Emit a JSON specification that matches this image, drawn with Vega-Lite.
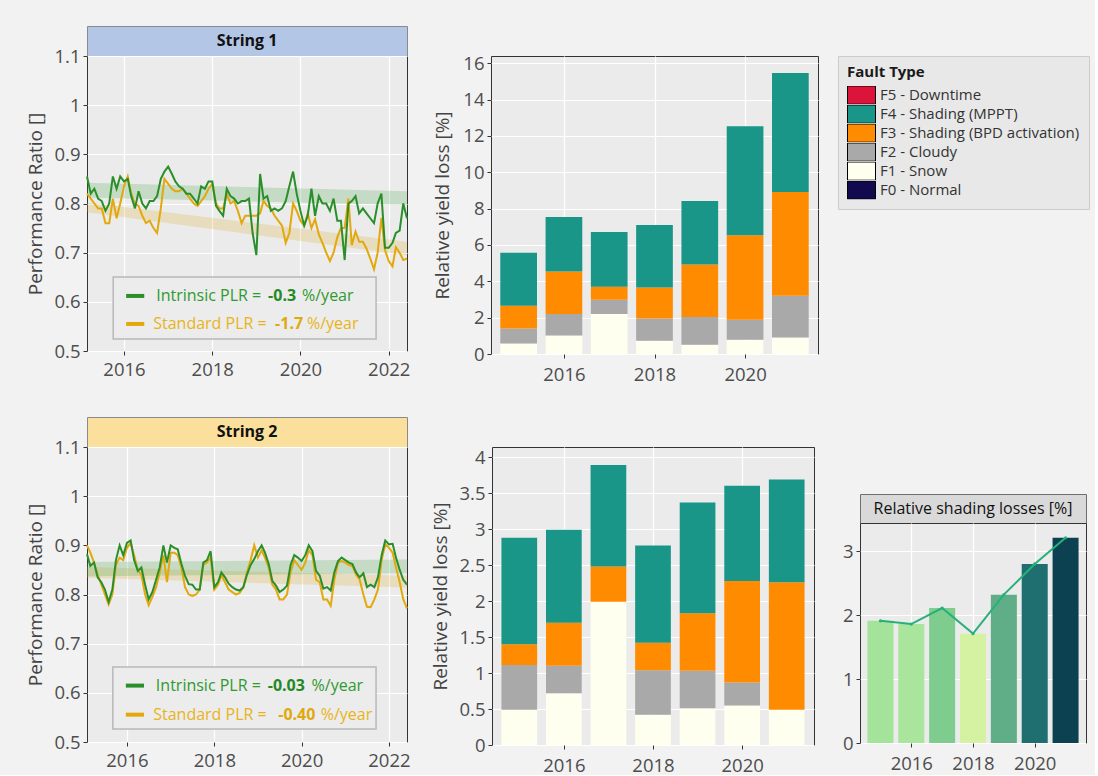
{
  "$schema": "https://vega.github.io/schema/vega-lite/v6.json",
  "padding": {"left": 25, "top": 25, "right": 5, "bottom": 0},
  "background": "#f2f2f2",
  "datasets": {
    "pr1": [
      {"date": "2015-03-01", "intrinsic": 0.855, "standard": 0.82},
      {"date": "2015-04-01", "intrinsic": 0.82, "standard": 0.81},
      {"date": "2015-05-01", "intrinsic": 0.83, "standard": 0.8},
      {"date": "2015-06-01", "intrinsic": 0.81, "standard": 0.79},
      {"date": "2015-07-01", "intrinsic": 0.805, "standard": 0.79},
      {"date": "2015-08-01", "intrinsic": 0.785, "standard": 0.76},
      {"date": "2015-09-01", "intrinsic": 0.8, "standard": 0.76},
      {"date": "2015-10-01", "intrinsic": 0.855, "standard": 0.81},
      {"date": "2015-11-01", "intrinsic": 0.83, "standard": 0.77},
      {"date": "2015-12-01", "intrinsic": 0.855, "standard": 0.8},
      {"date": "2016-01-01", "intrinsic": 0.845, "standard": 0.835},
      {"date": "2016-02-01", "intrinsic": 0.85, "standard": 0.855},
      {"date": "2016-03-01", "intrinsic": 0.815, "standard": 0.82},
      {"date": "2016-04-01", "intrinsic": 0.79, "standard": 0.8},
      {"date": "2016-05-01", "intrinsic": 0.825, "standard": 0.795},
      {"date": "2016-06-01", "intrinsic": 0.8, "standard": 0.775},
      {"date": "2016-07-01", "intrinsic": 0.79, "standard": 0.76},
      {"date": "2016-08-01", "intrinsic": 0.805, "standard": 0.765},
      {"date": "2016-09-01", "intrinsic": 0.805, "standard": 0.75},
      {"date": "2016-10-01", "intrinsic": 0.815, "standard": 0.74},
      {"date": "2016-11-01", "intrinsic": 0.85, "standard": 0.79},
      {"date": "2016-12-01", "intrinsic": 0.865, "standard": 0.85},
      {"date": "2017-01-01", "intrinsic": 0.875, "standard": 0.84},
      {"date": "2017-02-01", "intrinsic": 0.86, "standard": 0.83},
      {"date": "2017-03-01", "intrinsic": 0.845, "standard": 0.825},
      {"date": "2017-04-01", "intrinsic": 0.835, "standard": 0.825},
      {"date": "2017-05-01", "intrinsic": 0.83, "standard": 0.83},
      {"date": "2017-06-01", "intrinsic": 0.82, "standard": 0.82},
      {"date": "2017-07-01", "intrinsic": 0.82, "standard": 0.81},
      {"date": "2017-08-01", "intrinsic": 0.81, "standard": 0.8},
      {"date": "2017-09-01", "intrinsic": 0.8, "standard": 0.795},
      {"date": "2017-10-01", "intrinsic": 0.835, "standard": 0.805},
      {"date": "2017-11-01", "intrinsic": 0.83, "standard": 0.815},
      {"date": "2017-12-01", "intrinsic": 0.845, "standard": 0.83},
      {"date": "2018-01-01", "intrinsic": 0.845, "standard": 0.84},
      {"date": "2018-02-01", "intrinsic": 0.795, "standard": 0.8},
      {"date": "2018-03-01", "intrinsic": 0.785, "standard": 0.79},
      {"date": "2018-04-01", "intrinsic": 0.775, "standard": 0.79},
      {"date": "2018-05-01", "intrinsic": 0.83, "standard": 0.82},
      {"date": "2018-06-01", "intrinsic": 0.815, "standard": 0.8},
      {"date": "2018-07-01", "intrinsic": 0.81, "standard": 0.805},
      {"date": "2018-08-01", "intrinsic": 0.8, "standard": 0.785},
      {"date": "2018-09-01", "intrinsic": 0.805, "standard": 0.76},
      {"date": "2018-10-01", "intrinsic": 0.805, "standard": 0.775},
      {"date": "2018-11-01", "intrinsic": 0.81, "standard": 0.775},
      {"date": "2018-12-01", "intrinsic": 0.74, "standard": 0.775},
      {"date": "2019-01-01", "intrinsic": 0.695, "standard": 0.775},
      {"date": "2019-02-01", "intrinsic": 0.86, "standard": 0.78},
      {"date": "2019-03-01", "intrinsic": 0.81, "standard": 0.805},
      {"date": "2019-04-01", "intrinsic": 0.815, "standard": 0.795},
      {"date": "2019-05-01", "intrinsic": 0.785, "standard": 0.79},
      {"date": "2019-06-01", "intrinsic": 0.79, "standard": 0.775},
      {"date": "2019-07-01", "intrinsic": 0.785, "standard": 0.765},
      {"date": "2019-08-01", "intrinsic": 0.79, "standard": 0.755},
      {"date": "2019-09-01", "intrinsic": 0.805, "standard": 0.72},
      {"date": "2019-10-01", "intrinsic": 0.835, "standard": 0.74},
      {"date": "2019-11-01", "intrinsic": 0.865, "standard": 0.8},
      {"date": "2019-12-01", "intrinsic": 0.82, "standard": 0.785},
      {"date": "2020-01-01", "intrinsic": 0.785, "standard": 0.765},
      {"date": "2020-02-01", "intrinsic": 0.755, "standard": 0.755},
      {"date": "2020-03-01", "intrinsic": 0.775, "standard": 0.78},
      {"date": "2020-04-01", "intrinsic": 0.83, "standard": 0.75},
      {"date": "2020-05-01", "intrinsic": 0.775, "standard": 0.768},
      {"date": "2020-06-01", "intrinsic": 0.815, "standard": 0.737},
      {"date": "2020-07-01", "intrinsic": 0.8, "standard": 0.72},
      {"date": "2020-08-01", "intrinsic": 0.8, "standard": 0.7},
      {"date": "2020-09-01", "intrinsic": 0.785, "standard": 0.683},
      {"date": "2020-10-01", "intrinsic": 0.81, "standard": 0.7},
      {"date": "2020-11-01", "intrinsic": 0.765, "standard": 0.731},
      {"date": "2020-12-01", "intrinsic": 0.765, "standard": 0.75},
      {"date": "2021-01-01", "intrinsic": 0.685, "standard": 0.75},
      {"date": "2021-02-01", "intrinsic": 0.8, "standard": 0.81},
      {"date": "2021-03-01", "intrinsic": 0.805, "standard": 0.715},
      {"date": "2021-04-01", "intrinsic": 0.815, "standard": 0.743},
      {"date": "2021-05-01", "intrinsic": 0.78, "standard": 0.722},
      {"date": "2021-06-01", "intrinsic": 0.79, "standard": 0.722},
      {"date": "2021-07-01", "intrinsic": 0.78, "standard": 0.708},
      {"date": "2021-08-01", "intrinsic": 0.77, "standard": 0.688},
      {"date": "2021-09-01", "intrinsic": 0.76, "standard": 0.666},
      {"date": "2021-10-01", "intrinsic": 0.8, "standard": 0.7},
      {"date": "2021-11-01", "intrinsic": 0.82, "standard": 0.771},
      {"date": "2021-12-01", "intrinsic": 0.71, "standard": 0.705},
      {"date": "2022-01-01", "intrinsic": 0.71, "standard": 0.683},
      {"date": "2022-02-01", "intrinsic": 0.72, "standard": 0.672},
      {"date": "2022-03-01", "intrinsic": 0.74, "standard": 0.711},
      {"date": "2022-04-01", "intrinsic": 0.745, "standard": 0.7},
      {"date": "2022-05-01", "intrinsic": 0.8, "standard": 0.685},
      {"date": "2022-06-01", "intrinsic": 0.77, "standard": 0.688}
    ],
    "pr2": [
      {"date": "2015-02-01", "intrinsic": 0.882, "standard": 0.9},
      {"date": "2015-03-01", "intrinsic": 0.858, "standard": 0.885},
      {"date": "2015-04-01", "intrinsic": 0.865, "standard": 0.865},
      {"date": "2015-05-01", "intrinsic": 0.835, "standard": 0.84},
      {"date": "2015-06-01", "intrinsic": 0.825, "standard": 0.82},
      {"date": "2015-07-01", "intrinsic": 0.81, "standard": 0.8},
      {"date": "2015-08-01", "intrinsic": 0.785, "standard": 0.78},
      {"date": "2015-09-01", "intrinsic": 0.81, "standard": 0.8},
      {"date": "2015-10-01", "intrinsic": 0.87, "standard": 0.86},
      {"date": "2015-11-01", "intrinsic": 0.9, "standard": 0.875},
      {"date": "2015-12-01", "intrinsic": 0.88, "standard": 0.87},
      {"date": "2016-01-01", "intrinsic": 0.905, "standard": 0.895},
      {"date": "2016-02-01", "intrinsic": 0.91, "standard": 0.905},
      {"date": "2016-03-01", "intrinsic": 0.87, "standard": 0.88},
      {"date": "2016-04-01", "intrinsic": 0.848, "standard": 0.85},
      {"date": "2016-05-01", "intrinsic": 0.855, "standard": 0.84},
      {"date": "2016-06-01", "intrinsic": 0.82, "standard": 0.8},
      {"date": "2016-07-01", "intrinsic": 0.79, "standard": 0.778},
      {"date": "2016-08-01", "intrinsic": 0.805, "standard": 0.795},
      {"date": "2016-09-01", "intrinsic": 0.83, "standard": 0.815},
      {"date": "2016-10-01", "intrinsic": 0.855, "standard": 0.845},
      {"date": "2016-11-01", "intrinsic": 0.9, "standard": 0.88},
      {"date": "2016-12-01", "intrinsic": 0.865, "standard": 0.825},
      {"date": "2017-01-01", "intrinsic": 0.9, "standard": 0.885},
      {"date": "2017-02-01", "intrinsic": 0.895, "standard": 0.885},
      {"date": "2017-03-01", "intrinsic": 0.892, "standard": 0.88},
      {"date": "2017-04-01", "intrinsic": 0.862, "standard": 0.855},
      {"date": "2017-05-01", "intrinsic": 0.838, "standard": 0.815},
      {"date": "2017-06-01", "intrinsic": 0.821, "standard": 0.8},
      {"date": "2017-07-01", "intrinsic": 0.82, "standard": 0.797},
      {"date": "2017-08-01", "intrinsic": 0.81, "standard": 0.8},
      {"date": "2017-09-01", "intrinsic": 0.81, "standard": 0.81},
      {"date": "2017-10-01", "intrinsic": 0.865, "standard": 0.86},
      {"date": "2017-11-01", "intrinsic": 0.87, "standard": 0.865},
      {"date": "2017-12-01", "intrinsic": 0.888, "standard": 0.875},
      {"date": "2018-01-01", "intrinsic": 0.815, "standard": 0.81},
      {"date": "2018-02-01", "intrinsic": 0.825, "standard": 0.82},
      {"date": "2018-03-01", "intrinsic": 0.845, "standard": 0.84},
      {"date": "2018-04-01", "intrinsic": 0.835, "standard": 0.825},
      {"date": "2018-05-01", "intrinsic": 0.822, "standard": 0.81},
      {"date": "2018-06-01", "intrinsic": 0.815, "standard": 0.805},
      {"date": "2018-07-01", "intrinsic": 0.81, "standard": 0.8},
      {"date": "2018-08-01", "intrinsic": 0.808, "standard": 0.803},
      {"date": "2018-09-01", "intrinsic": 0.815, "standard": 0.815},
      {"date": "2018-10-01", "intrinsic": 0.84, "standard": 0.845},
      {"date": "2018-11-01", "intrinsic": 0.86, "standard": 0.87},
      {"date": "2018-12-01", "intrinsic": 0.872, "standard": 0.9},
      {"date": "2019-01-01", "intrinsic": 0.888, "standard": 0.875},
      {"date": "2019-02-01", "intrinsic": 0.9, "standard": 0.89},
      {"date": "2019-03-01", "intrinsic": 0.885, "standard": 0.875},
      {"date": "2019-04-01", "intrinsic": 0.862, "standard": 0.855},
      {"date": "2019-05-01", "intrinsic": 0.828, "standard": 0.82},
      {"date": "2019-06-01", "intrinsic": 0.818, "standard": 0.81},
      {"date": "2019-07-01", "intrinsic": 0.805, "standard": 0.79},
      {"date": "2019-08-01", "intrinsic": 0.81, "standard": 0.79},
      {"date": "2019-09-01", "intrinsic": 0.818, "standard": 0.8},
      {"date": "2019-10-01", "intrinsic": 0.86, "standard": 0.845},
      {"date": "2019-11-01", "intrinsic": 0.88, "standard": 0.87},
      {"date": "2019-12-01", "intrinsic": 0.875, "standard": 0.86},
      {"date": "2020-01-01", "intrinsic": 0.868, "standard": 0.85},
      {"date": "2020-02-01", "intrinsic": 0.88, "standard": 0.865},
      {"date": "2020-03-01", "intrinsic": 0.9, "standard": 0.89},
      {"date": "2020-04-01", "intrinsic": 0.888, "standard": 0.88},
      {"date": "2020-05-01", "intrinsic": 0.848, "standard": 0.83},
      {"date": "2020-06-01", "intrinsic": 0.838, "standard": 0.825},
      {"date": "2020-07-01", "intrinsic": 0.812, "standard": 0.79},
      {"date": "2020-08-01", "intrinsic": 0.815, "standard": 0.79},
      {"date": "2020-09-01", "intrinsic": 0.808, "standard": 0.777},
      {"date": "2020-10-01", "intrinsic": 0.845, "standard": 0.83},
      {"date": "2020-11-01", "intrinsic": 0.868, "standard": 0.865},
      {"date": "2020-12-01", "intrinsic": 0.875, "standard": 0.868},
      {"date": "2021-01-01", "intrinsic": 0.87, "standard": 0.865},
      {"date": "2021-02-01", "intrinsic": 0.865, "standard": 0.86},
      {"date": "2021-03-01", "intrinsic": 0.862, "standard": 0.858},
      {"date": "2021-04-01", "intrinsic": 0.845, "standard": 0.84},
      {"date": "2021-05-01", "intrinsic": 0.835, "standard": 0.83},
      {"date": "2021-06-01", "intrinsic": 0.843, "standard": 0.8},
      {"date": "2021-07-01", "intrinsic": 0.815, "standard": 0.775},
      {"date": "2021-08-01", "intrinsic": 0.82, "standard": 0.774},
      {"date": "2021-09-01", "intrinsic": 0.815, "standard": 0.79},
      {"date": "2021-10-01", "intrinsic": 0.835, "standard": 0.81},
      {"date": "2021-11-01", "intrinsic": 0.88, "standard": 0.87},
      {"date": "2021-12-01", "intrinsic": 0.91, "standard": 0.902},
      {"date": "2022-01-01", "intrinsic": 0.902, "standard": 0.895},
      {"date": "2022-02-01", "intrinsic": 0.903, "standard": 0.885},
      {"date": "2022-03-01", "intrinsic": 0.875, "standard": 0.855},
      {"date": "2022-04-01", "intrinsic": 0.85, "standard": 0.825},
      {"date": "2022-05-01", "intrinsic": 0.83, "standard": 0.79},
      {"date": "2022-06-01", "intrinsic": 0.82, "standard": 0.772}
    ],
    "trend1": [
      {"date": "2015-03-01", "intrinsic_lo": 0.812, "intrinsic_hi": 0.842, "standard_lo": 0.782, "standard_hi": 0.802},
      {"date": "2022-06-01", "intrinsic_lo": 0.797, "intrinsic_hi": 0.825, "standard_lo": 0.695, "standard_hi": 0.722}
    ],
    "trend2": [
      {"date": "2015-02-01", "intrinsic_lo": 0.837, "intrinsic_hi": 0.866, "standard_lo": 0.834, "standard_hi": 0.856},
      {"date": "2022-06-01", "intrinsic_lo": 0.843, "intrinsic_hi": 0.871, "standard_lo": 0.814, "standard_hi": 0.838}
    ],
    "plr1": [
      {"method": "Intrinsic", "label": "Intrinsic PLR =", "plr": "-0.3", "unit": "%/year"},
      {"method": "Standard", "label": "Standard PLR =", "plr": "-1.7", "unit": "%/year"}
    ],
    "plr2": [
      {"method": "Intrinsic", "label": "Intrinsic PLR =", "plr": "-0.03", "unit": "%/year"},
      {"method": "Standard", "label": "Standard PLR =", "plr": "-0.40", "unit": "%/year"}
    ],
    "loss1": [
      {"year": 2015, "fault": "F1 - Snow", "loss": 0.58},
      {"year": 2015, "fault": "F2 - Cloudy", "loss": 0.83},
      {"year": 2015, "fault": "F3 - Shading (BPD activation)", "loss": 1.24},
      {"year": 2015, "fault": "F4 - Shading (MPPT)", "loss": 2.92},
      {"year": 2016, "fault": "F1 - Snow", "loss": 1.02},
      {"year": 2016, "fault": "F2 - Cloudy", "loss": 1.18},
      {"year": 2016, "fault": "F3 - Shading (BPD activation)", "loss": 2.34},
      {"year": 2016, "fault": "F4 - Shading (MPPT)", "loss": 3.0},
      {"year": 2017, "fault": "F1 - Snow", "loss": 2.2},
      {"year": 2017, "fault": "F2 - Cloudy", "loss": 0.78},
      {"year": 2017, "fault": "F3 - Shading (BPD activation)", "loss": 0.72},
      {"year": 2017, "fault": "F4 - Shading (MPPT)", "loss": 3.02},
      {"year": 2018, "fault": "F1 - Snow", "loss": 0.73},
      {"year": 2018, "fault": "F2 - Cloudy", "loss": 1.23},
      {"year": 2018, "fault": "F3 - Shading (BPD activation)", "loss": 1.7},
      {"year": 2018, "fault": "F4 - Shading (MPPT)", "loss": 3.44},
      {"year": 2019, "fault": "F1 - Snow", "loss": 0.51},
      {"year": 2019, "fault": "F2 - Cloudy", "loss": 1.52},
      {"year": 2019, "fault": "F3 - Shading (BPD activation)", "loss": 2.89},
      {"year": 2019, "fault": "F4 - Shading (MPPT)", "loss": 3.5},
      {"year": 2020, "fault": "F1 - Snow", "loss": 0.79},
      {"year": 2020, "fault": "F2 - Cloudy", "loss": 1.09},
      {"year": 2020, "fault": "F3 - Shading (BPD activation)", "loss": 4.66},
      {"year": 2020, "fault": "F4 - Shading (MPPT)", "loss": 6.0},
      {"year": 2021, "fault": "F1 - Snow", "loss": 0.91},
      {"year": 2021, "fault": "F2 - Cloudy", "loss": 2.29},
      {"year": 2021, "fault": "F3 - Shading (BPD activation)", "loss": 5.72},
      {"year": 2021, "fault": "F4 - Shading (MPPT)", "loss": 6.54}
    ],
    "loss2": [
      {"year": 2015, "fault": "F1 - Snow", "loss": 0.49},
      {"year": 2015, "fault": "F2 - Cloudy", "loss": 0.62},
      {"year": 2015, "fault": "F3 - Shading (BPD activation)", "loss": 0.29},
      {"year": 2015, "fault": "F4 - Shading (MPPT)", "loss": 1.48},
      {"year": 2016, "fault": "F1 - Snow", "loss": 0.72},
      {"year": 2016, "fault": "F2 - Cloudy", "loss": 0.38},
      {"year": 2016, "fault": "F3 - Shading (BPD activation)", "loss": 0.6},
      {"year": 2016, "fault": "F4 - Shading (MPPT)", "loss": 1.29},
      {"year": 2017, "fault": "F1 - Snow", "loss": 1.99},
      {"year": 2017, "fault": "F3 - Shading (BPD activation)", "loss": 0.49},
      {"year": 2017, "fault": "F4 - Shading (MPPT)", "loss": 1.41},
      {"year": 2018, "fault": "F1 - Snow", "loss": 0.42},
      {"year": 2018, "fault": "F2 - Cloudy", "loss": 0.62},
      {"year": 2018, "fault": "F3 - Shading (BPD activation)", "loss": 0.38},
      {"year": 2018, "fault": "F4 - Shading (MPPT)", "loss": 1.35},
      {"year": 2019, "fault": "F1 - Snow", "loss": 0.51},
      {"year": 2019, "fault": "F2 - Cloudy", "loss": 0.52},
      {"year": 2019, "fault": "F3 - Shading (BPD activation)", "loss": 0.8},
      {"year": 2019, "fault": "F4 - Shading (MPPT)", "loss": 1.54},
      {"year": 2020, "fault": "F1 - Snow", "loss": 0.55},
      {"year": 2020, "fault": "F2 - Cloudy", "loss": 0.32},
      {"year": 2020, "fault": "F3 - Shading (BPD activation)", "loss": 1.41},
      {"year": 2020, "fault": "F4 - Shading (MPPT)", "loss": 1.32},
      {"year": 2021, "fault": "F1 - Snow", "loss": 0.49},
      {"year": 2021, "fault": "F3 - Shading (BPD activation)", "loss": 1.77},
      {"year": 2021, "fault": "F4 - Shading (MPPT)", "loss": 1.43}
    ],
    "shade": [
      {"year": 2015, "shading": 1.91},
      {"year": 2016, "shading": 1.86},
      {"year": 2017, "shading": 2.11},
      {"year": 2018, "shading": 1.71},
      {"year": 2019, "shading": 2.32},
      {"year": 2020, "shading": 2.8},
      {"year": 2021, "shading": 3.21}
    ]
  },
  "spacing": 32,
  "resolve": {"scale": {"color": "independent"}, "legend": {"color": "independent"}},
  "vconcat": [
    {
      "spacing": 21,
      "resolve": {"scale": {"color": "independent"}, "legend": {"color": "independent"}},
      "hconcat": [
        {
          "bounds": "flush",
          "spacing": 0,
          "vconcat": [
            {
              "width": 320, "height": 30,
              "data": {"values": [{"strip": "String 1"}]},
              "view": {"fill": "#b4c6e6", "stroke": "#8a8a8a"},
              "mark": {"type": "text", "fontSize": 16, "fontWeight": "bold", "color": "#111111"},
              "encoding": {"text": {"field": "strip"}}
            },
            {
              "width": 320, "height": 295,
              "layer": [
                {
                  "data": {"name": "trend1"},
                  "mark": {"type": "area", "color": "#dcaa1e", "opacity": 0.22},
                  "encoding": {
                    "x": {"field": "date", "type": "temporal", "scale": {"domain": [{"year": 2015, "month": 3, "date": 1}, {"year": 2022, "month": 6, "date": 1}], "nice": false}, "axis": {"title": null, "format": "%Y", "tickCount": {"interval": "year", "step": 2}}},
                    "y": {"field": "standard_lo", "type": "quantitative", "scale": {"domain": [0.5, 1.1], "nice": false, "zero": false}, "axis": {"title": "Performance Ratio []", "values": [0.5, 0.6, 0.7, 0.8, 0.9, 1, 1.1], "format": ".1~f", "titlePadding": 8.5}},
                    "y2": {"field": "standard_hi"}
                  }
                },
                {
                  "data": {"name": "trend1"},
                  "mark": {"type": "area", "color": "#2e9a2e", "opacity": 0.2},
                  "encoding": {
                    "x": {"field": "date", "type": "temporal"},
                    "y": {"field": "intrinsic_lo", "type": "quantitative"},
                    "y2": {"field": "intrinsic_hi"}
                  }
                },
                {
                  "data": {"name": "pr1"},
                  "mark": {"type": "line", "color": "#e3a80c", "strokeWidth": 2},
                  "encoding": {"x": {"field": "date", "type": "temporal"}, "y": {"field": "standard", "type": "quantitative"}}
                },
                {
                  "data": {"name": "pr1"},
                  "mark": {"type": "line", "color": "#2a8f2a", "strokeWidth": 2},
                  "encoding": {"x": {"field": "date", "type": "temporal"}, "y": {"field": "intrinsic", "type": "quantitative"}}
                },
                {
                  "data": {"name": "plr1"},
                  "transform": [{"filter": "datum.method === 'Intrinsic'"}],
                  "mark": {"type": "rect", "fill": "#ececec", "stroke": "#b8b8b8", "strokeWidth": 1.5},
                  "encoding": {
                    "x": {"datum": {"year": 2015, "month": 10, "date": 4}},
                    "x2": {"datum": {"year": 2021, "month": 9, "date": 18}},
                    "y": {"datum": 0.6505},
                    "y2": {"datum": 0.5244}
                  }
                },
                {
                  "data": {"name": "plr1"},
                  "transform": [{"filter": "datum.method === 'Intrinsic'"}],
                  "layer": [
                    {"mark": {"type": "rule", "color": "#2a8f2a", "strokeWidth": 4}, "encoding": {"x": {"datum": {"year": 2016, "month": 1, "date": 19}}, "x2": {"datum": {"year": 2016, "month": 6, "date": 17}}, "y": {"datum": 0.612}}},
                    {"mark": {"type": "text", "align": "left", "baseline": "middle", "fontSize": 16, "color": "#2f9a2f"}, "encoding": {"x": {"datum": {"year": 2016, "month": 9, "date": 24}}, "y": {"datum": 0.612}, "text": {"field": "label"}}},
                    {"mark": {"type": "text", "align": "left", "baseline": "middle", "fontSize": 16, "fontWeight": "bold", "color": "#238a23"}, "encoding": {"x": {"datum": {"year": 2019, "month": 4, "date": 8}}, "y": {"datum": 0.612}, "text": {"field": "plr"}}},
                    {"mark": {"type": "text", "align": "left", "baseline": "middle", "fontSize": 16, "color": "#2f9a2f"}, "encoding": {"x": {"datum": {"year": 2020, "month": 1, "date": 14}}, "y": {"datum": 0.612}, "text": {"field": "unit"}}}
                  ]
                },
                {
                  "data": {"name": "plr1"},
                  "transform": [{"filter": "datum.method === 'Standard'"}],
                  "layer": [
                    {"mark": {"type": "rule", "color": "#e3a80c", "strokeWidth": 4}, "encoding": {"x": {"datum": {"year": 2016, "month": 1, "date": 19}}, "x2": {"datum": {"year": 2016, "month": 6, "date": 17}}, "y": {"datum": 0.555}}},
                    {"mark": {"type": "text", "align": "left", "baseline": "middle", "fontSize": 16, "color": "#e8b41a"}, "encoding": {"x": {"datum": {"year": 2016, "month": 8, "date": 30}}, "y": {"datum": 0.555}, "text": {"field": "label"}}},
                    {"mark": {"type": "text", "align": "left", "baseline": "middle", "fontSize": 16, "fontWeight": "bold", "color": "#e0a90e"}, "encoding": {"x": {"datum": {"year": 2019, "month": 6, "date": 5}}, "y": {"datum": 0.555}, "text": {"field": "plr"}}},
                    {"mark": {"type": "text", "align": "left", "baseline": "middle", "fontSize": 16, "color": "#e8b41a"}, "encoding": {"x": {"datum": {"year": 2020, "month": 2, "date": 24}}, "y": {"datum": 0.555}, "text": {"field": "unit"}}}
                  ]
                }
              ]
            }
          ]
        },
        {
          "bounds": "flush",
          "spacing": 0,
          "resolve": {"scale": {"color": "independent"}, "legend": {"color": "independent"}},
          "vconcat": [
            {
              "width": 327, "height": 30,
              "data": {"values": [{"gap": ""}]},
              "view": {"fill": null, "stroke": null},
              "mark": {"type": "text"},
              "encoding": {"text": {"field": "gap"}}
            },
            {
              "width": 327, "height": 298,
              "data": {"name": "loss1"},
              "mark": {"type": "bar", "width": 36.7},
              "encoding": {
                "x": {"field": "year", "type": "quantitative", "scale": {"domain": [2014.5, 2021.5], "nice": false, "zero": false}, "axis": {"title": null, "values": [2016, 2018, 2020], "format": "d", "labelPadding": 7}},
                "y": {"field": "loss", "type": "quantitative", "stack": "zero", "scale": {"domain": [0, 16.4], "nice": false}, "axis": {"title": "Relative yield loss [%]", "values": [0, 2, 4, 6, 8, 10, 12, 14, 16], "titlePadding": 10.3}},
                "color": {
                  "field": "fault", "type": "nominal",
                  "scale": {
                    "domain": ["F5 - Downtime", "F4 - Shading (MPPT)", "F3 - Shading (BPD activation)", "F2 - Cloudy", "F1 - Snow", "F0 - Normal"],
                    "range": ["#dc143c", "#199688", "#ff8c00", "#a9a9a9", "#fffff0", "#120a4f"]
                  },
                  "legend": {
                    "title": "Fault Type", "orient": "right", "offset": 20, "padding": 9,
                    "fillColor": "#e8e8e8", "strokeColor": "#cccccc",
                    "symbolType": "M-1,-0.65H1V0.65H-1Z", "symbolSize": 784,
                    "symbolStrokeColor": "#000000", "symbolStrokeWidth": 1,
                    "clipHeight": 18.2, "rowPadding": 0,
                    "labelFontSize": 15, "labelColor": "#333333", "labelOffset": 4, "labelLimit": 320,
                    "titleFontSize": 15, "titleFontWeight": "bold", "titleColor": "#1a1a1a", "titlePadding": 6,
                    "encode": {"symbols": {"update": {"stroke": {"value": "#000000"}, "strokeWidth": {"value": 1}}}}
                  }
                },
                "order": {"field": "fault", "sort": "ascending"}
              }
            }
          ]
        }
      ]
    },
    {
      "spacing": 18,
      "resolve": {"scale": {"color": "independent"}, "legend": {"color": "independent"}},
      "hconcat": [
        {
          "bounds": "flush",
          "spacing": 0,
          "vconcat": [
            {
              "width": 320, "height": 30,
              "data": {"values": [{"strip": "String 2"}]},
              "view": {"fill": "#fae09c", "stroke": "#8a8a8a"},
              "mark": {"type": "text", "fontSize": 16, "fontWeight": "bold", "color": "#111111"},
              "encoding": {"text": {"field": "strip"}}
            },
            {
              "width": 320, "height": 295,
              "layer": [
                {
                  "data": {"name": "trend2"},
                  "mark": {"type": "area", "color": "#dcaa1e", "opacity": 0.22},
                  "encoding": {
                    "x": {"field": "date", "type": "temporal", "scale": {"domain": [{"year": 2015, "month": 2, "date": 1}, {"year": 2022, "month": 6, "date": 1}], "nice": false}, "axis": {"title": null, "format": "%Y", "tickCount": {"interval": "year", "step": 2}}},
                    "y": {"field": "standard_lo", "type": "quantitative", "scale": {"domain": [0.5, 1.1], "nice": false, "zero": false}, "axis": {"title": "Performance Ratio []", "values": [0.5, 0.6, 0.7, 0.8, 0.9, 1, 1.1], "format": ".1~f", "titlePadding": 8.5}},
                    "y2": {"field": "standard_hi"}
                  }
                },
                {
                  "data": {"name": "trend2"},
                  "mark": {"type": "area", "color": "#2e9a2e", "opacity": 0.2},
                  "encoding": {
                    "x": {"field": "date", "type": "temporal"},
                    "y": {"field": "intrinsic_lo", "type": "quantitative"},
                    "y2": {"field": "intrinsic_hi"}
                  }
                },
                {
                  "data": {"name": "pr2"},
                  "mark": {"type": "line", "color": "#e3a80c", "strokeWidth": 2},
                  "encoding": {"x": {"field": "date", "type": "temporal"}, "y": {"field": "standard", "type": "quantitative"}}
                },
                {
                  "data": {"name": "pr2"},
                  "mark": {"type": "line", "color": "#2a8f2a", "strokeWidth": 2},
                  "encoding": {"x": {"field": "date", "type": "temporal"}, "y": {"field": "intrinsic", "type": "quantitative"}}
                },
                {
                  "data": {"name": "plr2"},
                  "transform": [{"filter": "datum.method === 'Intrinsic'"}],
                  "mark": {"type": "rect", "fill": "#ececec", "stroke": "#b8b8b8", "strokeWidth": 1.5},
                  "encoding": {
                    "x": {"datum": {"year": 2015, "month": 9, "date": 5}},
                    "x2": {"datum": {"year": 2021, "month": 9, "date": 15}},
                    "y": {"datum": 0.6527},
                    "y2": {"datum": 0.5265}
                  }
                },
                {
                  "data": {"name": "plr2"},
                  "transform": [{"filter": "datum.method === 'Intrinsic'"}],
                  "layer": [
                    {"mark": {"type": "rule", "color": "#2a8f2a", "strokeWidth": 4}, "encoding": {"x": {"datum": {"year": 2015, "month": 12, "date": 23}}, "x2": {"datum": {"year": 2016, "month": 5, "date": 23}}, "y": {"datum": 0.6147}}},
                    {"mark": {"type": "text", "align": "left", "baseline": "middle", "fontSize": 16, "color": "#2f9a2f"}, "encoding": {"x": {"datum": {"year": 2016, "month": 8, "date": 30}}, "y": {"datum": 0.6147}, "text": {"field": "label"}}},
                    {"mark": {"type": "text", "align": "left", "baseline": "middle", "fontSize": 16, "fontWeight": "bold", "color": "#238a23"}, "encoding": {"x": {"datum": {"year": 2019, "month": 3, "date": 24}}, "y": {"datum": 0.6147}, "text": {"field": "plr"}}},
                    {"mark": {"type": "text", "align": "left", "baseline": "middle", "fontSize": 16, "color": "#2f9a2f"}, "encoding": {"x": {"datum": {"year": 2020, "month": 3, "date": 25}}, "y": {"datum": 0.6147}, "text": {"field": "unit"}}}
                  ]
                },
                {
                  "data": {"name": "plr2"},
                  "transform": [{"filter": "datum.method === 'Standard'"}],
                  "layer": [
                    {"mark": {"type": "rule", "color": "#e3a80c", "strokeWidth": 4}, "encoding": {"x": {"datum": {"year": 2015, "month": 12, "date": 23}}, "x2": {"datum": {"year": 2016, "month": 5, "date": 23}}, "y": {"datum": 0.5556}}},
                    {"mark": {"type": "text", "align": "left", "baseline": "middle", "fontSize": 16, "color": "#e8b41a"}, "encoding": {"x": {"datum": {"year": 2016, "month": 8, "date": 8}}, "y": {"datum": 0.5556}, "text": {"field": "label"}}},
                    {"mark": {"type": "text", "align": "left", "baseline": "middle", "fontSize": 16, "fontWeight": "bold", "color": "#e0a90e"}, "encoding": {"x": {"datum": {"year": 2019, "month": 6, "date": 20}}, "y": {"datum": 0.5556}, "text": {"field": "plr"}}},
                    {"mark": {"type": "text", "align": "left", "baseline": "middle", "fontSize": 16, "color": "#e8b41a"}, "encoding": {"x": {"datum": {"year": 2020, "month": 6, "date": 9}}, "y": {"datum": 0.5556}, "text": {"field": "unit"}}}
                  ]
                }
              ]
            }
          ]
        },
        {
          "spacing": 26,
          "resolve": {"scale": {"color": "independent"}, "legend": {"color": "independent"}},
          "hconcat": [
            {
              "bounds": "flush",
              "spacing": 0,
              "resolve": {"scale": {"color": "independent"}, "legend": {"color": "independent"}},
              "vconcat": [
                {
                  "width": 322, "height": 30,
                  "data": {"values": [{"gap": ""}]},
                  "view": {"fill": null, "stroke": null},
                  "mark": {"type": "text"},
                  "encoding": {"text": {"field": "gap"}}
                },
                {
                  "width": 322, "height": 298,
                  "data": {"name": "loss2"},
                  "mark": {"type": "bar", "width": 35.7},
                  "encoding": {
                    "x": {"field": "year", "type": "quantitative", "scale": {"domain": [2014.5, 2021.5], "nice": false, "zero": false}, "axis": {"title": null, "values": [2016, 2018, 2020], "format": "d", "labelPadding": 7}},
                    "y": {"field": "loss", "type": "quantitative", "stack": "zero", "scale": {"domain": [0, 4.14], "nice": false}, "axis": {"title": "Relative yield loss [%]", "values": [0, 0.5, 1, 1.5, 2, 2.5, 3, 3.5, 4], "format": ".1~f", "titlePadding": 8.5}},
                    "color": {
                      "field": "fault", "type": "nominal",
                      "scale": {
                        "domain": ["F5 - Downtime", "F4 - Shading (MPPT)", "F3 - Shading (BPD activation)", "F2 - Cloudy", "F1 - Snow", "F0 - Normal"],
                        "range": ["#dc143c", "#199688", "#ff8c00", "#a9a9a9", "#fffff0", "#120a4f"]
                      },
                      "legend": null
                    },
                    "order": {"field": "fault", "sort": "ascending"}
                  }
                }
              ]
            },
            {
              "bounds": "flush",
              "spacing": 0,
              "resolve": {"scale": {"color": "independent"}, "legend": {"color": "independent"}},
              "vconcat": [
                {
                  "width": 226, "height": 77,
                  "data": {"values": [{"gap": ""}]},
                  "view": {"fill": null, "stroke": null},
                  "mark": {"type": "text"},
                  "encoding": {"text": {"field": "gap"}}
                },
                {
                  "width": 226, "height": 29,
                  "data": {"values": [{"strip": "Relative shading losses [%]"}]},
                  "view": {"fill": "#d9d9d9", "stroke": "#6f6f6f"},
                  "mark": {"type": "text", "fontSize": 16, "color": "#111111"},
                  "encoding": {"text": {"field": "strip"}}
                },
                {
                  "width": 226, "height": 220,
                  "data": {"name": "shade"},
                  "layer": [
                    {
                      "mark": {"type": "bar", "width": 26},
                      "encoding": {
                        "x": {"field": "year", "type": "quantitative", "scale": {"domain": [2014.5, 2021.5], "nice": false, "zero": false}, "axis": {"title": null, "values": [2016, 2018, 2020], "format": "d", "labelPadding": 7}},
                        "y": {"field": "shading", "type": "quantitative", "scale": {"domain": [0, 3.44], "nice": false}, "axis": {"title": null, "values": [0, 0.5, 1, 1.5, 2, 2.5, 3], "format": ".1~f"}},
                        "color": {
                          "field": "year", "type": "nominal",
                          "scale": {"domain": [2015, 2016, 2017, 2018, 2019, 2020, 2021], "range": ["#a3e39a", "#a9e59d", "#7fcc8f", "#d5f2a2", "#5fae88", "#1f6f70", "#0b4150"]},
                          "legend": null
                        }
                      }
                    },
                    {
                      "mark": {"type": "line", "color": "#27b07a", "strokeWidth": 2, "point": {"color": "#27b07a", "size": 10}},
                      "encoding": {
                        "x": {"field": "year", "type": "quantitative"},
                        "y": {"field": "shading", "type": "quantitative"}
                      }
                    }
                  ]
                }
              ]
            }
          ]
        }
      ]
    }
  ],
  "config": {
    "font": "Open Sans",
    "view": {"fill": "#ebebeb", "stroke": "#333333", "strokeWidth": 1},
    "axis": {
      "domain": false, "tickColor": "#333333", "tickSize": 4, "tickWidth": 1,
      "labelFontSize": 18.5, "labelColor": "#4d4d4d", "labelFlush": false, "labelOverlap": false,
      "titleFontSize": 19, "titleColor": "#444444", "titleFontWeight": "normal",
      "gridColor": "#ffffff", "gridWidth": 1.2
    },
    "axisX": {"labelPadding": 5},
    "axisY": {"labelPadding": 3}
  }
}
